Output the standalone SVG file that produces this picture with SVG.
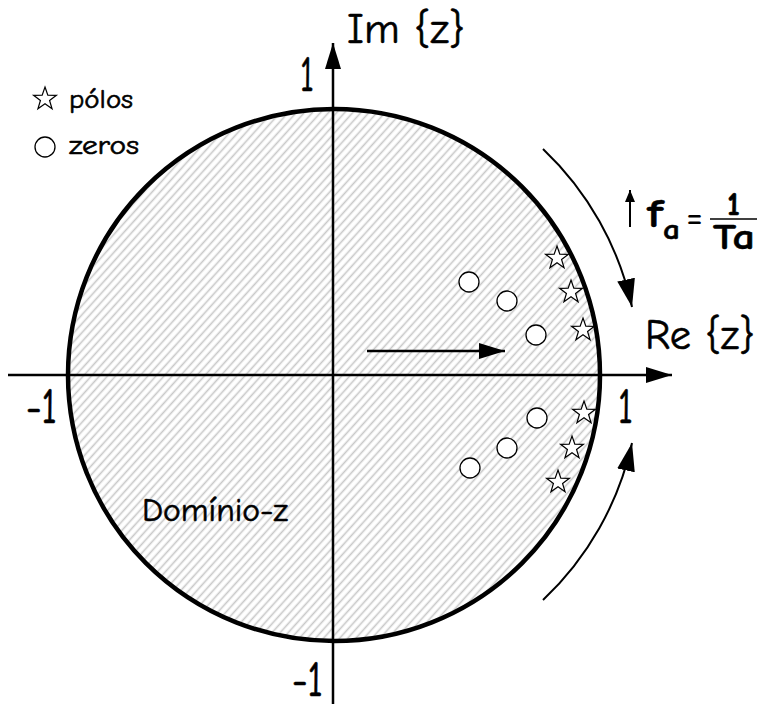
<svg xmlns="http://www.w3.org/2000/svg" width="759" height="706" viewBox="0 0 759 706">
<style>
  text { font-family: "Comic Sans MS", "Comic Neue", "Noto Sans", "DejaVu Sans", sans-serif; fill: #000; stroke: #000; stroke-width: 0.6; }
  .lbl { font-size: 43px; }
  .num { font-size: 50px; }
  .leg { font-size: 27px; }
  .dom { font-size: 33px; }
  .fb { font-weight: bold; stroke-width: 0.5; }
  .axis { stroke: #000; stroke-width: 2.5; fill: none; }
  .unit { stroke: #000; stroke-width: 4.5; fill: url(#hatch); }
  .pole { fill: #fff; stroke: #000; stroke-width: 1.2; }
  .zero { fill: #fff; stroke: #000; stroke-width: 1.3; }
  .curve { stroke: #000; stroke-width: 2; fill: none; }
</style>
<defs>
  <pattern id="hatch" patternUnits="userSpaceOnUse" width="6" height="6" patternTransform="rotate(42)">
    <rect width="6" height="6" fill="#fff"/>
    <line x1="1.5" y1="0" x2="1.5" y2="6" stroke="#c8c8c8" stroke-width="1.6"/>
  </pattern>
  <marker id="ahAxis" markerUnits="userSpaceOnUse" viewBox="0 0 26 16" refX="26" refY="8" markerWidth="26" markerHeight="16" orient="auto">
    <path d="M0,0 L26,8 L0,16 z" fill="#000"/>
  </marker>
  <marker id="ahCurve" markerUnits="userSpaceOnUse" viewBox="0 0 28 18" refX="28" refY="9" markerWidth="28" markerHeight="18" orient="auto">
    <path d="M0,0 L28,9 L0,18 z" fill="#000"/>
  </marker>
  <marker id="ahSmall" markerUnits="userSpaceOnUse" viewBox="0 0 12 10" refX="12" refY="5" markerWidth="12" markerHeight="10" orient="auto">
    <path d="M0,0 L12,5 L0,10 z" fill="#000"/>
  </marker>
  <path id="star" d="M0,-12 L2.82,-3.88 L11.41,-3.71 L4.57,1.48 L7.05,9.71 L0,4.8 L-7.05,9.71 L-4.57,1.48 L-11.41,-3.71 L-2.82,-3.88 Z"/>
</defs>

<g id="unit-circle">
  <circle class="unit" cx="334" cy="375" r="266"/>
</g>

<g id="connectors">
  <line id="re-axis" class="axis" x1="8" y1="375" x2="672" y2="375" marker-end="url(#ahAxis)"/>
  <line id="im-axis" class="axis" x1="333" y1="704" x2="333" y2="43" marker-end="url(#ahAxis)"/>
  <line id="inner-arrow" class="axis" x1="367" y1="351" x2="505" y2="351" marker-end="url(#ahAxis)"/>
  <path id="arc-top" class="curve" d="M543,149 A307,307 0 0 1 632,307" marker-end="url(#ahCurve)"/>
  <path id="arc-bottom" class="curve" d="M543,600 A307,307 0 0 0 632,443" marker-end="url(#ahCurve)"/>
  <line id="fa-arrow" x1="630" y1="227" x2="630" y2="190" stroke="#000" stroke-width="2" marker-end="url(#ahSmall)"/>
</g>

<g id="poles">
  <use href="#star" class="pole" x="557" y="258"/>
  <use href="#star" class="pole" x="571" y="292"/>
  <use href="#star" class="pole" x="583" y="330"/>
  <use href="#star" class="pole" x="584" y="413"/>
  <use href="#star" class="pole" x="572" y="448"/>
  <use href="#star" class="pole" x="558" y="482"/>
</g>

<g id="zeros">
  <circle class="zero" cx="469" cy="282" r="10"/>
  <circle class="zero" cx="507" cy="301" r="10"/>
  <circle class="zero" cx="536" cy="335" r="10"/>
  <circle class="zero" cx="537" cy="418" r="10"/>
  <circle class="zero" cx="507" cy="448" r="10"/>
  <circle class="zero" cx="470" cy="468" r="10"/>
</g>

<g id="legend">
  <use href="#star" class="pole" x="45" y="99"/>
  <text class="leg" x="69" y="108" textLength="64" lengthAdjust="spacingAndGlyphs">pólos</text>
  <circle class="zero" cx="45" cy="147" r="10"/>
  <text class="leg" x="69" y="154" textLength="70" lengthAdjust="spacingAndGlyphs">zeros</text>
</g>

<g id="labels">
  <text class="lbl" x="347" y="43" textLength="118" lengthAdjust="spacingAndGlyphs">Im {z}</text>
  <text class="lbl" x="645" y="349" textLength="110" lengthAdjust="spacingAndGlyphs">Re {z}</text>
  <text class="num" x="300" y="91" textLength="14" lengthAdjust="spacingAndGlyphs">1</text>
  <text class="num" x="26" y="423" textLength="31" lengthAdjust="spacingAndGlyphs">-1</text>
  <text class="num" x="618" y="423" textLength="15" lengthAdjust="spacingAndGlyphs">1</text>
  <text class="num" x="292" y="696" font-size="47" textLength="31" lengthAdjust="spacingAndGlyphs">-1</text>
  <text class="dom" x="142" y="521" textLength="146" lengthAdjust="spacingAndGlyphs">Domínio-z</text>
</g>

<g id="formula">
  <text class="fb" x="647" y="227" font-size="40" textLength="16" lengthAdjust="spacingAndGlyphs">f</text>
  <text class="fb" x="663" y="239" font-size="29" textLength="17" lengthAdjust="spacingAndGlyphs">a</text>
  <text x="686" y="229" font-size="40" textLength="17" lengthAdjust="spacingAndGlyphs" style="stroke-width:0">=</text>
  <line x1="710" y1="219" x2="757" y2="219" stroke="#000" stroke-width="1.5"/>
  <text class="fb" x="727" y="215" font-size="33" textLength="13" lengthAdjust="spacingAndGlyphs">1</text>
  <text class="fb" x="713" y="249" font-size="36" textLength="42" lengthAdjust="spacingAndGlyphs">Ta</text>
</g>
</svg>
